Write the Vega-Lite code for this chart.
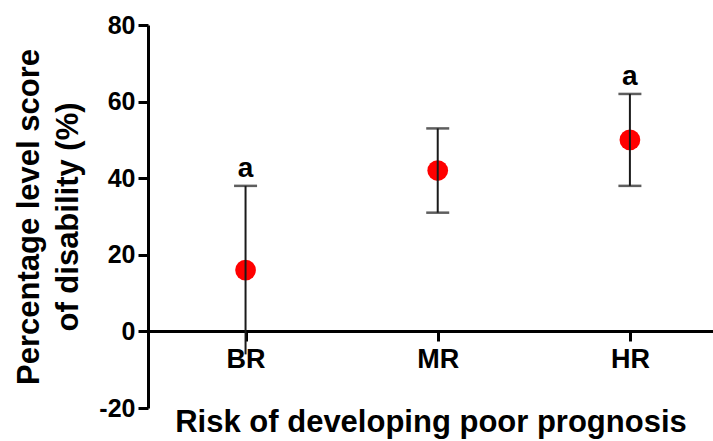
{
  "$schema": "https://vega.github.io/schema/vega-lite/v6.json",
  "autosize": "none",
  "width": 565,
  "height": 383,
  "padding": {"left": 148, "top": 25, "right": 0, "bottom": 33},
  "background": "white",
  "config": {
    "view": {"stroke": null},
    "font": "Liberation Sans",
    "axis": {"grid": false, "domainColor": "black", "tickColor": "black", "labelColor": "black", "titleColor": "black", "labelFont": "Liberation Sans", "titleFont": "Liberation Sans", "labelFontWeight": "bold", "titleFontWeight": "bold"}
  },
  "datasets": {
    "groups": [
      {"risk": "BR", "mean": 16, "lo": -6, "hi": 38, "sig": "a"},
      {"risk": "MR", "mean": 42, "lo": 31, "hi": 53, "sig": ""},
      {"risk": "HR", "mean": 50, "lo": 38, "hi": 62, "sig": "a"}
    ],
    "caps": [
      {"risk": "BR", "v": 38},
      {"risk": "MR", "v": 53},
      {"risk": "MR", "v": 31},
      {"risk": "HR", "v": 62},
      {"risk": "HR", "v": 38}
    ]
  },
  "encoding": {
    "x": {
      "field": "risk", "type": "nominal", "sort": ["BR", "MR", "HR"],
      "scale": {"type": "point", "padding": 0.47, "align": 0.54},
      "axis": {
        "title": "Risk of developing poor prognosis",
        "labelAngle": 0, "offset": -77, "domainWidth": 3, "tickWidth": 3, "tickSize": 10,
        "labelFontSize": 27, "labelPadding": 5, "titleFontSize": 31, "titlePadding": 35
      }
    }
  },
  "layer": [
    {
      "data": {"name": "groups"},
      "mark": {"type": "point", "filled": true, "color": "#FF0000", "opacity": 1, "size": 430, "shape": "circle"},
      "encoding": {
        "y": {
          "field": "mean", "type": "quantitative",
          "scale": {"domain": [-20, 80], "nice": false, "zero": false},
          "axis": {
            "title": ["Percentage level score", "of disability (%)"],
            "values": [-20, 0, 20, 40, 60, 80],
            "labelExpr": "toString(datum.value)",
            "domainWidth": 3, "tickWidth": 3, "tickSize": 10,
            "labelFontSize": 25, "labelPadding": 3,
            "titleFontSize": 31, "titleLineHeight": 39, "titlePadding": 14
          }
        }
      }
    },
    {
      "data": {"name": "groups"},
      "mark": {"type": "rule", "color": "#1a1a1a", "strokeWidth": 2},
      "encoding": {
        "y": {"field": "lo", "type": "quantitative"},
        "y2": {"field": "hi"}
      }
    },
    {
      "data": {"name": "caps"},
      "mark": {"type": "tick", "orient": "horizontal", "color": "#1a1a1a", "size": 23, "thickness": 2.5},
      "encoding": {
        "y": {"field": "v", "type": "quantitative"}
      }
    },
    {
      "data": {"name": "groups"},
      "mark": {"type": "text", "baseline": "bottom", "dy": -3, "fontSize": 28, "fontWeight": "bold", "font": "Liberation Sans", "color": "black"},
      "encoding": {
        "y": {"field": "hi", "type": "quantitative"},
        "text": {"field": "sig"}
      }
    }
  ]
}
